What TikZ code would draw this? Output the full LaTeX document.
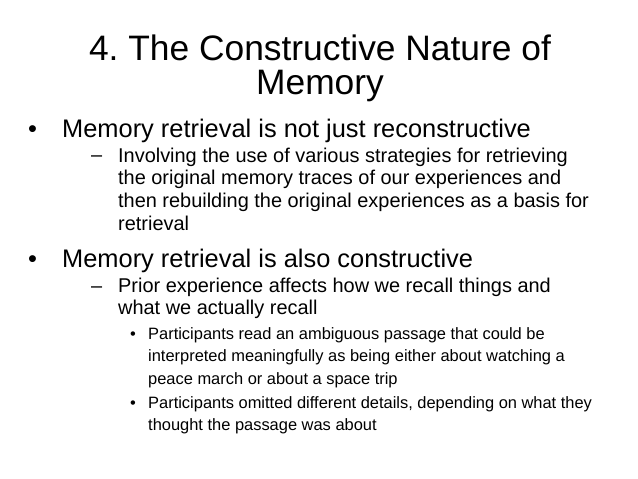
\documentclass[tikz,border=0pt]{standalone}
\usepackage{fontspec}
\setmainfont{Liberation Sans}
\frenchspacing
\usetikzlibrary{positioning}
\tikzset{
  title/.style={align=center, font=\fontsize{35.5}{35}\selectfont, inner sep=0pt},
  lvlone/.style={anchor=base west, align=left, inner sep=0pt, font=\fontsize{25.5}{27}\selectfont},
  lvltwo/.style={anchor=base west, align=left, inner sep=0pt, font=\fontsize{20}{22.8}\selectfont},
  lvlthree/.style={anchor=base west, align=left, inner sep=0pt, font=\fontsize{16.5}{22.5}\selectfont}
}
\begin{document}
\begin{tikzpicture}[x=1bp,y=-1bp]
  \useasboundingbox[fill=white] (0,0) rectangle (638,479);
  % title (anchored on its last line)
  \node[title, anchor=base] (head) at (320,95) {4. The Constructive Nature of\\Memory};
  % first point
  \node[lvlone] (dotA) at (28,138) {\textbullet};
  \node[lvlone] (ptA) at (62,138) {Memory retrieval is not just reconstructive};
  \node[lvltwo] (dashA) at (91,162) {--};
  \node[lvltwo] (subA) at (118,230.4) {Involving the use of various strategies for retrieving\\the original memory traces of our experiences and\\then rebuilding the original experiences as a basis for\\retrieval};
  % second point
  \node[lvlone] (dotB) at (28,267) {\textbullet};
  \node[lvlone] (ptB) at (62,267) {Memory retrieval is also constructive};
  \node[lvltwo] (dashB) at (91,292) {--};
  \node[lvltwo] (subB) at (118,314.8) {Prior experience affects how we recall things and\\what we actually recall};
  \node[lvlthree] (dotC) at (130,339) {\textbullet};
  \node[lvlthree] (subC) at (148,384) {Participants read an ambiguous passage that could be\\interpreted meaningfully as being either about watching a\\peace march or about a space trip};
  \node[lvlthree] (dotD) at (130,408) {\textbullet};
  \node[lvlthree] (subD) at (148,430.5) {Participants omitted different details, depending on what they\\thought the passage was about};
\end{tikzpicture}
\end{document}
